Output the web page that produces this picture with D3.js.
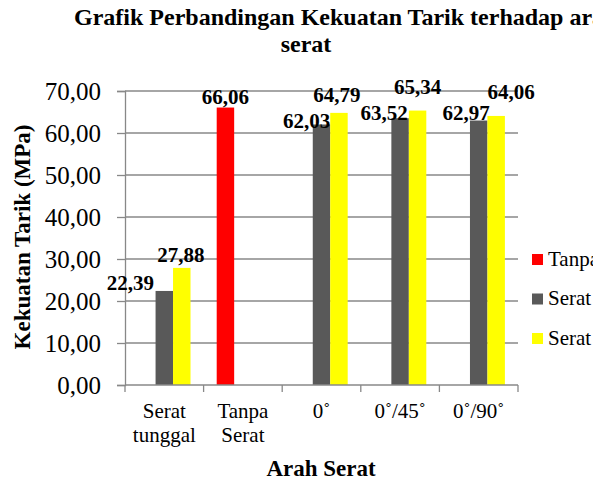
<!DOCTYPE html>
<html>
<head>
<meta charset="utf-8">
<script src="https://cdn.jsdelivr.net/npm/d3@7"></script>
<style>
  html, body { margin: 0; padding: 0; background: #fff; }
  svg { display: block; }
  text { font-family: "Liberation Serif", "Times New Roman", serif; fill: #000; }
</style>
</head>
<body>
<svg id="chart" width="593" height="481"></svg>
<script>
// ---- data ----
const categories = [["Serat", "tunggal"], ["Tanpa", "Serat"], ["0˚"], ["0˚/45˚"], ["0˚/90˚"]];
const seriesNames = ["Tanpa Serat", "Serat 1", "Serat 2"];
const tanpaSerat = [null, 66.06, null, null, null];
const serat1 = [22.39, null, 62.03, 63.52, 62.97];
const serat2 = [27.88, null, 64.79, 65.34, 64.06];
const yTicks = [0, 10, 20, 30, 40, 50, 60, 70];
const titleLines = ["Grafik Perbandingan Kekuatan Tarik terhadap arah", "serat"];
const yTitle = "Kekuatan Tarik (MPa)";
const xTitle = "Arah Serat";

// ---- style / layout (not data) ----
const colors = ["#FF0000", "#595959", "#FFFF00"];
const gridColor = "#888888";
// manual label nudges [dx, dy] relative to centered-above position, per series per category
const labelNudge = [
  [null, [0, 0.5], null, null, null],
  [[-34, 3], null, [-15, 7.5], [-16, 6], [-12.5, 3]],
  [[-1, -2], null, [-2, -7], [0, -12.5], [15, -13]]
];

const svg = d3.select("#chart");
const margin = { left: 125, right: 75, top: 91, bottom: 96 };
const W = 593, H = 481;
const x0 = d3.scaleBand().domain(d3.range(categories.length)).range([margin.left, W - margin.right]).padding(0);
const x1 = d3.scaleBand().domain(d3.range(seriesNames.length)).range([0, x0.bandwidth()]).paddingInner(0).paddingOuter(0.75);
const y = d3.scaleLinear().domain([0, 70]).range([H - margin.bottom, margin.top]);

const fmt = d3.formatLocale({ decimal: ",", thousands: ".", grouping: [3], currency: ["", ""] }).format(".2f");

// gridlines
svg.append("g").selectAll("line").data(yTicks.slice(1)).join("line")
  .attr("x1", margin.left).attr("x2", W - margin.right)
  .attr("y1", d => y(d)).attr("y2", d => y(d))
  .attr("stroke", gridColor).attr("stroke-width", 1.3);

// y axis
const yAxis = svg.append("g").attr("transform", `translate(${margin.left},0)`)
  .call(d3.axisLeft(y).tickValues(yTicks).tickFormat(fmt).tickSize(8).tickPadding(16));
yAxis.select(".domain").attr("stroke", gridColor).attr("stroke-width", 1.3);
yAxis.selectAll(".tick line").attr("stroke", gridColor).attr("stroke-width", 1.3);
yAxis.selectAll(".tick text").style("font-family", "Liberation Serif").style("font-size", "25px").attr("fill", "#000");

// bars
const seriesData = [tanpaSerat, serat1, serat2];
seriesData.forEach((vals, si) => {
  const g = svg.append("g");
  const data = vals.map((v, ci) => ({ v, ci })).filter(d => d.v !== null);
  g.selectAll("rect").data(data).join("rect")
    .attr("x", d => x0(d.ci) + x1(si))
    .attr("width", x1.bandwidth())
    .attr("y", d => y(d.v))
    .attr("height", d => y(0) - y(d.v))
    .attr("fill", colors[si]);
  g.selectAll("text").data(data).join("text")
    .attr("x", d => x0(d.ci) + x1(si) + x1.bandwidth() / 2 + labelNudge[si][d.ci][0])
    .attr("y", d => y(d.v) - 4 + labelNudge[si][d.ci][1])
    .attr("text-anchor", "middle")
    .style("font-size", "21px").style("font-weight", "bold")
    .text(d => fmt(d.v));
});

// x axis
const xAxisG = svg.append("g").attr("transform", `translate(0,${y(0)})`);
xAxisG.append("line").attr("x1", margin.left).attr("x2", W - margin.right)
  .attr("stroke", gridColor).attr("stroke-width", 1.3);
const bounds = d3.range(categories.length + 1).map(i => i < categories.length ? x0(i) : x0(i - 1) + x0.bandwidth());
xAxisG.selectAll("line.tk").data(bounds).join("line").attr("class", "tk")
  .attr("x1", d => d).attr("x2", d => d).attr("y1", 0).attr("y2", 7)
  .attr("stroke", gridColor).attr("stroke-width", 1.3);
const catText = xAxisG.selectAll("text.cat").data(categories).join("text").attr("class", "cat")
  .attr("text-anchor", "middle")
  .attr("transform", (d, i) => `translate(${x0(i) + x0.bandwidth() / 2},33)`)
  .style("font-size", "21px");
catText.selectAll("tspan").data(d => d).join("tspan")
  .attr("x", 0).attr("dy", (d, i) => i === 0 ? 0 : 23.5).text(d => d);

// axis titles
svg.append("text").attr("x", 321).attr("y", 476).attr("text-anchor", "middle")
  .style("font-size", "23px").style("font-weight", "bold").text(xTitle);
svg.append("text").attr("transform", "translate(30,237) rotate(-90)").attr("text-anchor", "middle")
  .style("font-size", "23px").style("font-weight", "bold").text(yTitle);

// chart title
svg.append("text").attr("x", 74).attr("y", 25)
  .style("font-size", "24px").style("font-weight", "bold").text(titleLines[0]);
svg.append("text").attr("x", 306).attr("y", 52).attr("text-anchor", "middle")
  .style("font-size", "24px").style("font-weight", "bold").text(titleLines[1]);

// legend
const legend = svg.append("g").attr("transform", "translate(532,259.5)");
const li = legend.selectAll("g").data(seriesNames).join("g")
  .attr("transform", (d, i) => `translate(0,${i * 39.5})`);
li.append("rect").attr("x", 0).attr("y", -5.5).attr("width", 11).attr("height", 11)
  .attr("fill", (d, i) => colors[i]);
li.append("text").attr("x", 16).attr("y", 6).style("font-size", "21px").text(d => d);
</script>
</body>
</html>
